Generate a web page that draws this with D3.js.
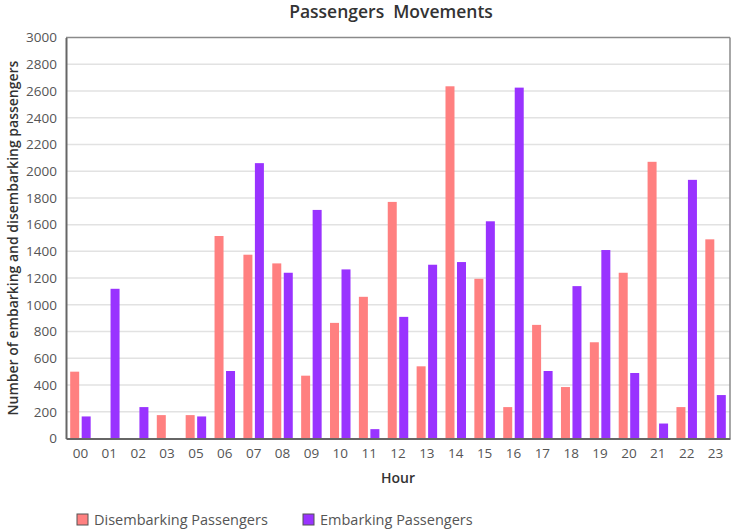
<!DOCTYPE html>
<html>
<head>
<meta charset="utf-8">
<script src="https://cdn.jsdelivr.net/npm/d3@7"></script>
<style>
  html, body { margin: 0; padding: 0; background: #fff; }
  svg { display: block; font-family: "Open Sans", sans-serif; }
</style>
</head>
<body>
<svg id="chart" width="734" height="532"></svg>
<script>
const hours = ["00","01","02","03","05","06","07","08","09","10","11","12","13","14","15","16","17","18","19","20","21","22","23"];
const disembarking = [500, 0, 0, 175, 175, 1515, 1375, 1310, 470, 865, 1060, 1770, 540, 2635, 1195, 235, 850, 385, 720, 1240, 2070, 235, 1490];
const embarking    = [165, 1120, 235, 0, 165, 505, 2060, 1240, 1710, 1265, 70, 910, 1300, 1320, 1625, 2625, 505, 1140, 1410, 490, 112, 1935, 325];
const yTicks = d3.range(0, 3001, 200);
const seriesNames = ["Disembarking Passengers", "Embarking Passengers"];
const seriesColors = ["#ff8080", "#9933ff"];

const svg = d3.select("#chart");
const m = { left: 66, right: 730, top: 37.5, bottom: 438.5 };

const x0 = d3.scaleBand().domain(hours).range([m.left, m.right]).paddingInner(0.29).paddingOuter(0.145);
const x1 = d3.scaleBand().domain([0, 1]).range([0, x0.bandwidth()]).paddingInner(0.217);
const y = d3.scaleLinear().domain([0, 3000]).range([m.bottom, m.top]);

// gridlines
svg.append("g").selectAll("line").data(yTicks.filter(t => t > 0 && t < 3000)).join("line")
  .attr("x1", m.left).attr("x2", m.right)
  .attr("y1", d => y(d)).attr("y2", d => y(d))
  .attr("stroke", "#e2e2e2").attr("stroke-width", 1.5);

// frame top/right
svg.append("line").attr("x1", m.left).attr("x2", m.right).attr("y1", m.top).attr("y2", m.top)
  .attr("stroke", "#8a8a8a").attr("stroke-width", 1.5);
svg.append("line").attr("x1", m.right).attr("x2", m.right).attr("y1", m.top).attr("y2", m.bottom)
  .attr("stroke", "#8a8a8a").attr("stroke-width", 1.5);

// bars
const series = [disembarking, embarking];
const groups = svg.append("g").selectAll("g").data(hours).join("g")
  .attr("transform", d => `translate(${x0(d)},0)`);
groups.selectAll("rect").data((d, i) => series.map((s, k) => ({ k, v: s[i] })).filter(o => o.v > 0)).join("rect")
  .attr("x", d => x1(d.k))
  .attr("width", x1.bandwidth())
  .attr("y", d => y(d.v))
  .attr("height", d => y(0) - y(d.v))
  .attr("fill", d => seriesColors[d.k]);

// axes
const yAxis = d3.axisLeft(y).tickValues(yTicks).tickFormat(d3.format("d")).tickSize(0).tickPadding(9);
const gy = svg.append("g").attr("transform", `translate(${m.left},0)`).call(yAxis);
gy.select(".domain").attr("stroke", "#666").attr("stroke-width", 2);
gy.selectAll("text").attr("font-size", 13.5).attr("fill", "#555").attr("font-family", "Open Sans");

const xAxis = d3.axisBottom(x0).tickSize(0).tickPadding(10);
const gx = svg.append("g").attr("transform", `translate(0,${m.bottom})`).call(xAxis);
gx.select(".domain").attr("stroke", "#666").attr("stroke-width", 2);
gx.selectAll("text").attr("font-size", 13.5).attr("fill", "#555").attr("font-family", "Open Sans");

// titles
svg.append("text").attr("x", 391).attr("y", 18).attr("text-anchor", "middle")
  .attr("font-size", 17.5).attr("font-weight", 600).attr("fill", "#333")
  .style("white-space", "pre").text("Passengers  Movements");
svg.append("text").attr("x", (m.left + m.right) / 2).attr("y", 483).attr("text-anchor", "middle")
  .attr("font-size", 14).attr("font-weight", 600).attr("fill", "#333").text("Hour");
svg.append("text").attr("transform", `translate(13,${(m.top + m.bottom) / 2}) rotate(-90)`)
  .attr("text-anchor", "middle").attr("dy", "0.35em")
  .attr("font-size", 14).attr("font-weight", 600).attr("fill", "#333")
  .text("Number of embarking and disembarking passengers");

// legend
const legX = [77, 303];
const leg = svg.append("g").selectAll("g").data(seriesNames).join("g")
  .attr("transform", (d, i) => `translate(${legX[i]},514)`);
leg.append("rect").attr("width", 11).attr("height", 11)
  .attr("fill", (d, i) => seriesColors[i]).attr("stroke", "#555").attr("stroke-width", 1);
leg.append("text").attr("x", 17).attr("y", 10.5).attr("font-size", 14.5).attr("fill", "#555").text(d => d);
</script>
</body>
</html>
